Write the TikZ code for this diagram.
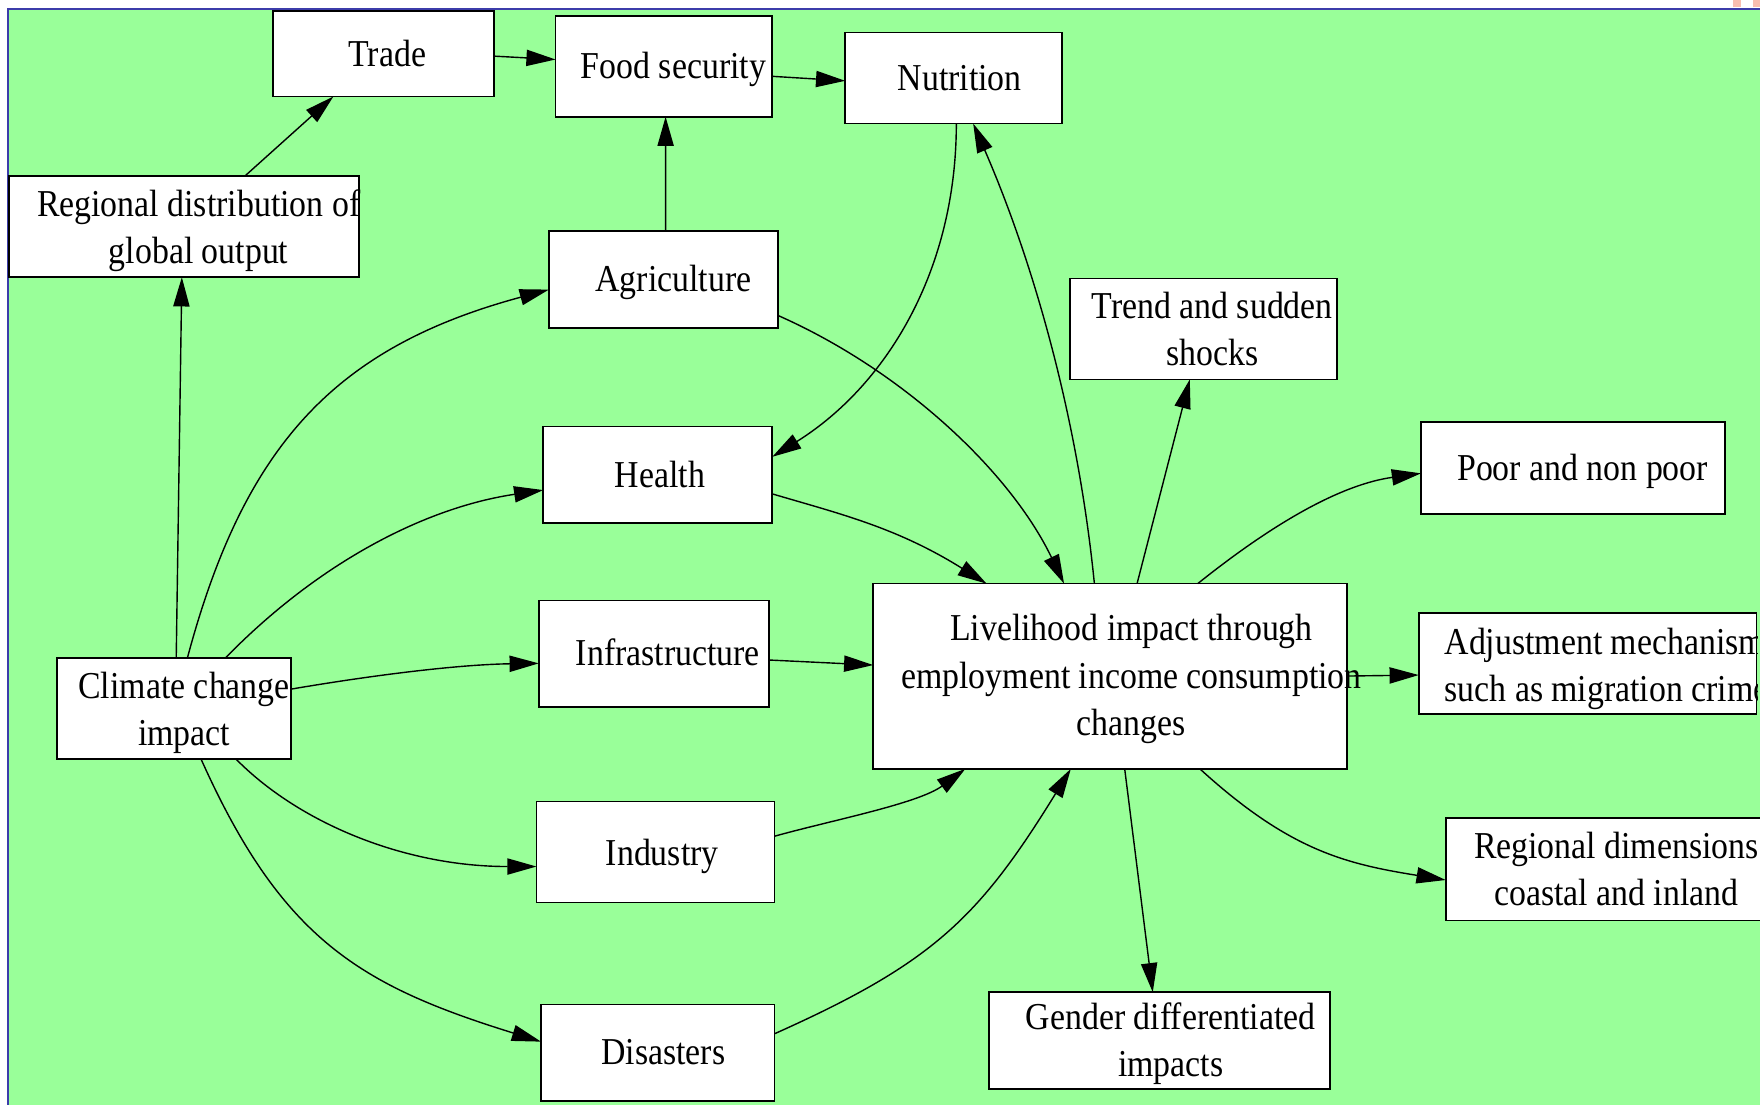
\documentclass[tikz,border=0pt]{standalone}
\usepackage{fontspec}
\setmainfont[FakeStretch=0.89]{Liberation Serif}
\usetikzlibrary{arrows.meta,calc}
\definecolor{bggreen}{RGB}{153,255,153}
\definecolor{frameblue}{RGB}{60,60,170}
\definecolor{pinkmark}{RGB}{248,190,176}
\def\un{0.5612pt}
\begin{document}
\begin{tikzpicture}[x=0.5612pt,y=-0.5612pt,
  box/.style={draw=black, line width=0.8pt, fill=white, inner sep=0pt, outer sep=0pt},
  txt/.style={font=\fontsize{19pt}{23.6pt}\selectfont, inner sep=0pt, outer sep=0pt, align=center},
  arr/.style={line width=0.7pt, -{Triangle[length=14.6pt,width=8.1pt]}},
  framel/.style={draw=frameblue, line width=1pt}
]
\useasboundingbox (0,0) rectangle (1568,984);
\fill[white] (0,0) rectangle (1568,984);
\fill[bggreen] (7.5,8.3) rectangle (1568,984);
\draw[framel] (7.5,984) -- (7.5,8.3) -- (1568,8.3);
\fill[pinkmark] (1544.3,0) rectangle (1550.9,6);
\fill[pinkmark] (1561.5,0) rectangle (1568,6);

% boxes
\node[box, minimum width={197*\un}, minimum height={76*\un}] (trade) at (341.5,48) {};
\node[box, minimum width={193*\un}, minimum height={90*\un}] (food) at (591.5,59) {};
\node[box, minimum width={193*\un}, minimum height={81*\un}] (nutr) at (849.5,69.5) {};
\node[box, minimum width={312*\un}, minimum height={90*\un}] (regd) at (164,202) {};
\node[box, minimum width={204*\un}, minimum height={86*\un}] (agri) at (591,249) {};
\node[box, minimum width={238*\un}, minimum height={90*\un}] (trend) at (1072,293) {};
\node[box, minimum width={204*\un}, minimum height={86*\un}] (health) at (586,423) {};
\node[box, minimum width={271*\un}, minimum height={82*\un}] (poor) at (1401.5,417) {};
\node[box, minimum width={205*\un}, minimum height={95*\un}] (infra) at (582.5,582.5) {};
\node[box, minimum width={422*\un}, minimum height={165*\un}] (live) at (989,602.5) {};
\node[box, minimum width={301*\un}, minimum height={90*\un}] (adj) at (1414.5,591) {};
\node[box, minimum width={208*\un}, minimum height={90*\un}] (clim) at (155,631) {};
\node[box, minimum width={212*\un}, minimum height={90*\un}] (indus) at (584,759) {};
\node[box, minimum width={332*\un}, minimum height={91*\un}] (regdim) at (1454,774.5) {};
\node[box, minimum width={304*\un}, minimum height={86*\un}] (gender) at (1033,927) {};
\node[box, minimum width={208*\un}, minimum height={86*\un}] (dis) at (586,938) {};

% texts
\begin{scope}
\clip (0,0) rectangle (1566,984);
\node[txt] (ttrade) at (345,50.6) {\strut Trade};
\node[txt] (tfood) at (600,61.6) {\strut Food security};
\node[txt] (tnutr) at (855,72.6) {\strut Nutrition};
\node[txt] (tregd) at (177,205.6) {\strut Regional distribution of\\\strut global output};
\node[txt] (tagri) at (600,251.6) {\strut Agriculture};
\node[txt] (ttrend) at (1080,296.1) {\strut Trend and sudden\\\strut shocks};
\node[txt] (thealth) at (588,425.6) {\strut Health};
\node[txt] (tpoor) at (1410,419.3) {\strut Poor and non poor};
\node[txt] (tinfra) at (595,584.6) {\strut Infrastructure};
\node[txt] (tlive) at (1008,604.6) {\strut Livelihood impact through\\\strut employment income consumption\\\strut changes};
\node[txt, align=left, anchor=west] (tadj) at (1287,595.6) {\strut Adjustment mechanisms\\\strut such as migration crime};
\node[txt] (tclim) at (164,634.6) {\strut Climate change\\\strut impact};
\node[txt] (tindus) at (590,762.3) {\strut Industry};
\node[txt] (tregdim) at (1440,777.3) {\strut Regional dimensions\\\strut coastal and inland};
\node[txt] (tgender) at (1043,929.4) {\strut Gender differentiated\\\strut impacts};
\node[txt] (tdis) at (591,939.6) {\strut Disasters};
\end{scope}

% edges
\draw[arr] ($(regd.north west)+(210,0)$) -- ($(trade.south west)+(54,0)$);
\draw[arr] ($(trade.east)+(0,2)$) -- ($(food.west)+(0,-6)$);
\draw[arr] ($(food.east)+(0,9)$) -- ($(nutr.west)+(0,2.5)$);
\draw[arr] ($(agri.north)+(2,0)$) -- ($(food.south)+(1.5,0)$);
\draw[arr] ($(clim.north)+(2,0)$) -- ($(regd.south west)+(154,0)$);
\draw[arr] ($(clim.north)+(12,0)$) .. controls (218,395) and (300,309) .. ($(agri.west)+(0,9)$);
\draw[arr] ($(clim.north)+(46,0)$) .. controls (285,500) and (380,452) .. ($(health.west)+(0,13.6)$);
\draw[arr] ($(clim.east)+(0,-17)$) .. controls (335,601) and (410,592) .. ($(infra.west)+(0,8.5)$);
\draw[arr] ($(clim.south)+(55,0)$) .. controls (266,733) and (360,772) .. ($(indus.west)+(0,13)$);
\draw[arr] ($(clim.south)+(24,0)$) .. controls (251,837) and (321,878) .. ($(dis.west)+(0,-10)$);
\draw[arr] ($(nutr.south)+(2.5,0)$) .. controls (852,242) and (789,344) .. ($(health.east)+(0,-16)$);
\draw[arr] ($(live.north west)+(197,0)$) .. controls (960,370) and (920,232) .. ($(nutr.south)+(17.5,0)$);
\draw[arr] ($(agri.east)+(0,32)$) .. controls (804,330) and (900,420) .. ($(live.north west)+(170,0)$);
\draw[arr] ($(health.east)+(0,17)$) .. controls (749,458) and (799,470) .. ($(live.north west)+(101,0)$);
\draw[arr] ($(infra.east)+(0,5.5)$) -- ($(live.west)+(0,-10)$);
\draw[arr] ($(indus.east)+(0,-14)$) .. controls (740,731) and (818,716) .. ($(live.south west)+(82,0)$);
\draw[arr] ($(dis.east)+(0,-17)$) .. controls (831,858) and (872,818) .. ($(live.south west)+(176,0)$);
\draw[arr] ($(live.north west)+(235,0)$) -- ($(trend.south)+(-12,0)$);
\draw[arr] ($(live.north west)+(289,0)$) .. controls (1137,464) and (1196,431.5) .. ($(poor.west)+(0,4.7)$);
\draw[arr] ($(live.east)+(0,-0.2)$) -- ($(adj.west)+(0,10.4)$);
\draw[arr] ($(live.south west)+(291,0)$) .. controls (1149,758) and (1199,769.6) .. ($(regdim.west)+(0,9.5)$);
\draw[arr] ($(live.south west)+(224,0)$) -- ($(gender.north)+(-6,0)$);
\end{tikzpicture}
\end{document}
